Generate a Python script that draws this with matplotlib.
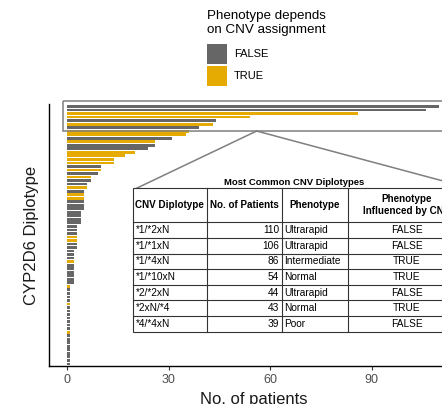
import matplotlib
matplotlib.use("Agg")
import matplotlib.pyplot as plt
from matplotlib.patches import Rectangle, ConnectionPatch
from matplotlib.lines import Line2D

plt.rcParams['font.family'] = ['Liberation Sans', 'DejaVu Sans']

# patients per CNV diplotype, sorted, and whether phenotype depends on CNV
counts = [110, 106, 86, 54, 44, 43, 39, 36, 35, 31, 26, 26, 24, 20, 17, 14, 14,
          10, 10, 9, 7, 7, 6, 6, 5, 5, 5, 5, 5, 5, 4, 4, 4, 4, 3, 3, 3, 3, 3, 3, 3,
          2, 2, 2, 2, 2, 2, 2, 2, 2, 2, 1, 1, 1, 1, 1, 1, 1, 1, 1, 1, 1, 1, 1, 1,
          1, 1, 1, 1, 1, 1, 1, 1, 1]
depends = [False, False, True, True, False, True, False, True, True, False, True,
           False, False, True, True, True, True, False, True, False, True, False,
           False, True, False, True, True, False, False, False, False, False, False,
           False, False, False, False, True, True, False, False, False, False, False,
           True, False, False, False, False, False, False, True, False, False, False,
           False, True, False, False, False, False, False, False, False, True, False,
           False, False, False, False, False, False, False, False]

# inset table
table_diplotypes = ["*1/*2xN", "*1/*1xN", "*1/*4xN", "*1/*10xN", "*2/*2xN", "*2xN/*4", "*4/*4xN"]
table_patients = [110, 106, 86, 54, 44, 43, 39]
table_phenotypes = ["Ultrarapid", "Ultrarapid", "Intermediate", "Normal", "Ultrarapid", "Normal", "Poor"]
table_influenced = ["FALSE", "FALSE", "TRUE", "TRUE", "FALSE", "TRUE", "FALSE"]
table_header = ["CNV Diplotype", "No. of Patients", "Phenotype", "Phenotype\nInfluenced by CNV"]

GRAY = "#666666"
GOLD = "#E6AB02"
W, H = 442, 404

fig = plt.figure(figsize=(W / 100, H / 100), dpi=100)


def px(x, y):
    # pixel position (from top left) -> figure fraction
    return x / W, 1 - y / H


ax = fig.add_axes([48.5 / W, 1 - 366 / H, (458 - 48.5) / W, (366 - 104.4) / H])
ypos = list(range(len(counts)))
ax.barh(ypos, counts, height=0.78, color=[GOLD if d else GRAY for d in depends])
ax.set_xlim(-5.5, 115.5)
ax.set_ylim(len(counts) - 0.4, -0.6)
ax.set_yticks([])
ax.set_xticks([0, 30, 60, 90])
ax.tick_params(axis='x', length=3, width=0.8, color="#333333", labelcolor="#4D4D4D",
               labelsize=9, pad=3)
for s in ['top', 'right']:
    ax.spines[s].set_visible(False)
for s in ['left', 'bottom']:
    ax.spines[s].set_linewidth(1.0)
ax.set_xlabel("No. of patients", fontsize=12, labelpad=4, color="#1A1A1A")
ax.set_ylabel("CYP2D6 Diplotype", fontsize=12, color="#1A1A1A")
ax.yaxis.set_label_coords(-0.022, 0.5)

# zoom box around the most common diplotypes
ax.add_patch(Rectangle((-1.3, -1.5), 125, 8.45, fill=False, edgecolor="#7F7F7F",
                       linewidth=1.1, clip_on=False))
for corner in [(135, 189), (473, 189)]:
    fig.add_artist(ConnectionPatch(xyA=(56, 6.95), coordsA=ax.transData,
                                   xyB=px(*corner), coordsB=fig.transFigure,
                                   color="#7F7F7F", linewidth=1.1))

# legend
fig.text(*px(206.7, 23), "Phenotype depends\non CNV assignment", fontsize=9.6,
         ha='left', va='center', linespacing=1.2)
for (top, label, col) in [(44, "FALSE", GRAY), (66, "TRUE", GOLD)]:
    x0, y0 = px(206.7, top + 19.5)
    fig.add_artist(Rectangle((x0, y0), 20 / W, 19.5 / H, transform=fig.transFigure,
                             facecolor=col, edgecolor='none'))
    fig.text(*px(234, top + 10), label, fontsize=8, ha='left', va='center')

# table
col_edges = [132.7, 206.7, 281.7, 348.3, 465]
top_y, head_y, row_h = 188, 222.3, 15.63
bottom_y = head_y + row_h * len(table_diplotypes)
fig.text(*px(294, 182.5), "Most Common CNV Diplotypes", fontsize=6.8,
         fontweight='bold', ha='center', va='center')
fig.add_artist(Rectangle(px(col_edges[0], bottom_y), (col_edges[-1] - col_edges[0]) / W,
                         (bottom_y - top_y) / H, transform=fig.transFigure,
                         facecolor='white', edgecolor='#333333', linewidth=0.8))
for xe in col_edges[1:-1]:
    fig.add_artist(Line2D([xe / W] * 2, [1 - top_y / H, 1 - bottom_y / H],
                          transform=fig.transFigure, color='#333333', linewidth=0.8))
for i in range(len(table_diplotypes)):
    yl = head_y + i * row_h
    fig.add_artist(Line2D([col_edges[0] / W, col_edges[-1] / W], [1 - yl / H] * 2,
                          transform=fig.transFigure, color='#333333', linewidth=0.8))
head_c = (top_y + head_y) / 2
for j, name in enumerate(table_header):
    xc = (col_edges[j] + col_edges[j + 1]) / 2
    fig.text(*px(xc, head_c), name, fontsize=7.1, fontweight='bold',
             ha='center', va='center', linespacing=1.2)
for i in range(len(table_diplotypes)):
    yc = head_y + (i + 0.5) * row_h
    fig.text(*px(col_edges[0] + 3.5, yc), table_diplotypes[i], fontsize=7.3, ha='left', va='center')
    fig.text(*px(col_edges[2] - 2.5, yc), str(table_patients[i]), fontsize=7.3, ha='right', va='center')
    fig.text(*px(col_edges[2] + 2.5, yc), table_phenotypes[i], fontsize=7.3, ha='left', va='center')
    fig.text(*px((col_edges[3] + col_edges[4]) / 2, yc), table_influenced[i], fontsize=7.3,
             ha='center', va='center')

fig.savefig("out.png", dpi=100)
